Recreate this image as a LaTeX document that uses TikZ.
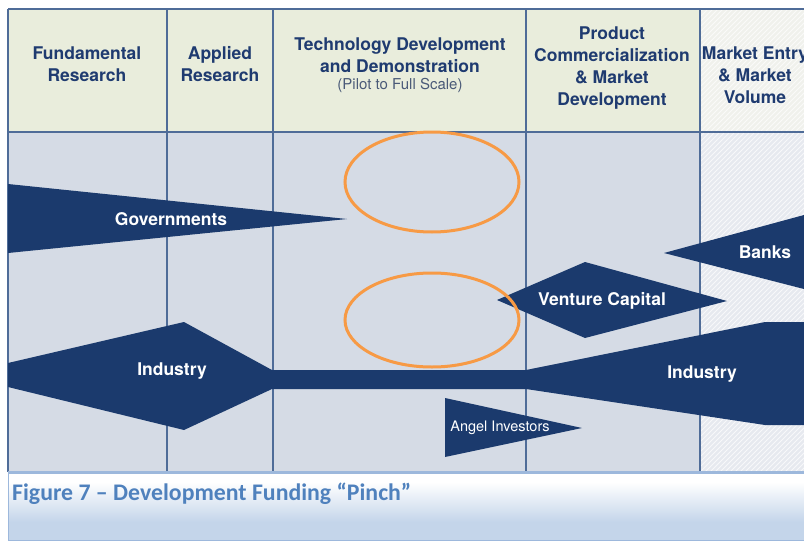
\documentclass[tikz,border=0pt]{standalone}
\usepackage{fontspec}
\setmainfont{TeX Gyre Heros}
\newfontfamily\capfont{Carlito}

\definecolor{navy}{HTML}{1B3A6D}
\definecolor{gridline}{HTML}{4F6C98}
\definecolor{headfill}{HTML}{E9EDDC}
\definecolor{bodyfill}{HTML}{D5DBE5}
\definecolor{hatchhead}{HTML}{F0F1EC}
\definecolor{hatchbody}{HTML}{E6E9EF}
\definecolor{headtext}{HTML}{1F3B70}
\definecolor{subtext}{HTML}{4A5A78}
\definecolor{pinch}{HTML}{F79A45}
\definecolor{capblue}{HTML}{4F81BD}
\definecolor{capfill}{HTML}{C4D5EA}
\definecolor{capline}{HTML}{9DB8DC}

\begin{document}
\begin{tikzpicture}[x=1pt, y=-1pt]
    \tikzset{head/.style = {align=center, text=headtext, font=\bfseries\fontsize{17.5}{22}\selectfont},
             flow/.style = {fill=navy},
             flowtext/.style = {text=white, font=\bfseries\fontsize{17.5}{20}\selectfont},
             grid/.style = {draw=gridline, line width=1.2pt},
             ring/.style = {draw=pinch, line width=3pt}}
    \useasboundingbox (0,0) rectangle (804,541);

    % row backgrounds
    \fill[headfill] (8,9) rectangle (700,132);
    \fill[bodyfill] (8,132) rectangle (700,472);
    \fill[hatchhead] (700,9) rectangle (804,132);
    \fill[hatchbody] (700,132) rectangle (804,472);
    \begin{scope}
        \clip (700,9) rectangle (804,472);
        \foreach \k in {0,5,...,580}
            \draw[white, opacity=0.7, line width=1pt] (230+\k,472) -- (700+\k,2);
    \end{scope}

    % caption box
    \fill[white] (8,472) rectangle (804,541);
    \shade[top color=white, bottom color=capfill] (8,482) rectangle (804,522);
    \fill[capfill] (8,522) rectangle (804,541);
    \draw[capline, line width=1pt] (8,472) -- (8,541);
    \draw[capline, line width=1pt] (8,540.5) -- (804,540.5);

    % grid
    \draw[grid] (8,9) -- (804,9);
    \draw[grid] (8,132) -- (804,132);
    \foreach \x in {8,167,273,526,700}
        \draw[grid] (\x,9) -- (\x,472);
    \draw[capline, line width=3pt] (8,472) -- (804,472);

    % funding streams
    \fill[flow] (8,184) -- (347,219) -- (8,253) -- cycle;
    \fill[flow] (8,363) -- (184,322) -- (272,370) -- (526,370) -- (765,322) -- (804,322)
        -- (804,425) -- (765,425) -- (526,389) -- (272,389) -- (184,430) -- (8,387) -- cycle;
    \fill[flow] (497,300) -- (585,262) -- (727,301) -- (585,338) -- cycle;
    \fill[flow] (664,253) -- (804,215) -- (804,289) -- cycle;
    \fill[flow] (445,398) -- (582,428) -- (445,457) -- cycle;

    % column headings
    \node[head] (fund) at (87,64) {Fundamental\\Research};
    \node[head] (appl) at (220,64) {Applied\\Research};
    \node[head] (tech) at (400,55) {Technology Development\\and Demonstration};
    \node[text=subtext, font=\fontsize{15}{18}\selectfont] (pilot) at (400,85) {(Pilot to Full Scale)};
    \node[head] (prod) at (612,68) {Product\\Commercialization\\\& Market\\Development};
    \node[head] (mkt) at (755,75) {Market Entry\\\& Market\\Volume};

    % stream labels
    \node[flowtext] (gov) at (171,219) {Governments};
    \node[flowtext] (ind) at (172,371) {Industry};
    \node[flowtext] (indr) at (702,374) {Industry};
    \node[flowtext] (vc) at (602,301) {Venture Capital};
    \node[flowtext] (banks) at (765,252) {Banks};
    \node[text=white, font=\fontsize{14.5}{17}\selectfont] (angel) at (500,428) {Angel Investors};

    % the pinch
    \draw[ring] (432,182) ellipse [x radius=87, y radius=50];
    \draw[ring] (432,320) ellipse [x radius=87, y radius=47];

    \node[anchor=base west, inner sep=0pt, text=capblue, font=\capfont\bfseries\fontsize{23.8}{26}\selectfont]
        (cap) at (12,500) {Figure 7 – Development Funding “Pinch”};
\end{tikzpicture}
\end{document}
